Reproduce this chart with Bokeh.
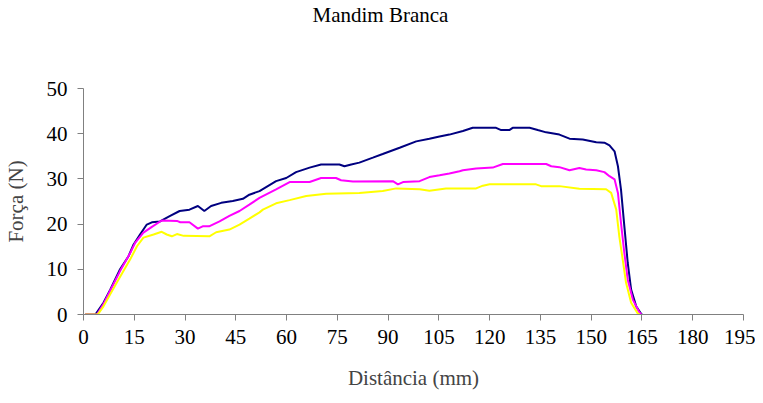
from bokeh.plotting import figure
from bokeh.models import Range1d, FixedTicker, LinearAxis, Title
from bokeh.embed import file_html
from bokeh.resources import INLINE

title_text = "Mandim Branca"
x_label = "Distância (mm)"
y_label = "Força (N)"
x_ticks = [0, 15, 30, 45, 60, 75, 90, 105, 120, 135, 150, 165, 180, 195]
y_ticks = [0, 10, 20, 30, 40, 50]

navy_x = [0.5, 3.5, 5.9, 7.9, 10.8, 13.3, 14.8, 16.7, 18.7, 20.2, 22.6, 25.6, 28.4, 31.3, 33.8, 35.7,
          37.7, 40.7, 44.1, 47.1, 49.0, 52.0, 56.9, 59.9, 62.8, 66.8, 70.2, 75.6, 77.1, 79.1, 81.5,
          85.5, 88.4, 93.4, 98.3, 102.2, 105.2, 108.1, 112.1, 115.0, 121.9, 123.4, 125.8, 126.8,
          131.8, 134.2, 136.7, 140.6, 143.6, 147.5, 151.5, 153.9, 155.4, 156.9, 157.9, 158.8,
          159.8, 160.8, 161.8, 163.3, 164.7, 165.0]
navy_y = [0, 0, 2.6, 5.5, 10.0, 12.9, 15.5, 17.7, 19.9, 20.4, 20.6, 21.8, 22.9, 23.2, 24.0, 22.9,
          24.0, 24.7, 25.1, 25.6, 26.5, 27.3, 29.5, 30.2, 31.5, 32.5, 33.2, 33.2, 32.8, 33.2, 33.6,
          34.7, 35.5, 36.9, 38.3, 38.9, 39.4, 39.8, 40.6, 41.3, 41.3, 40.8, 40.8, 41.3,
          41.3, 40.8, 40.3, 39.8, 38.9, 38.7, 38.1, 38.0, 37.4, 36.1, 32.8, 27.7,
          19.5, 11.4, 5.5, 1.8, 0.2, 0]

magenta_x = [0.5, 4.0, 5.9, 7.9, 10.8, 13.8, 15.3, 17.7, 20.2, 23.1, 27.6, 28.6, 31.3, 33.8, 35.2,
             37.1, 40.2, 43.1, 46.1, 49.0, 52.0, 53.0, 56.9, 60.9, 66.8, 70.2, 74.6, 76.1, 79.6,
             91.4, 92.9, 94.4, 99.3, 102.2, 105.2, 108.1, 111.1, 112.1, 116.0, 120.9, 123.9,
             136.7, 138.2, 140.6, 143.6, 146.5, 148.5, 151.5, 153.9, 155.4, 156.9, 157.9, 158.8,
             159.8, 160.8, 162.3, 164.2, 164.8]
magenta_y = [0, 0, 2.3, 5.3, 9.6, 13.6, 15.9, 18.1, 19.4, 20.8, 20.7, 20.4, 20.4, 19.0, 19.5,
             19.5, 20.6, 21.8, 22.9, 24.3, 25.8, 26.2, 27.7, 29.3, 29.3, 30.2, 30.2, 29.7, 29.4,
             29.5, 28.8, 29.3, 29.5, 30.4, 30.8, 31.2, 31.7, 31.9, 32.3, 32.5, 33.3,
             33.3, 32.8, 32.6, 31.9, 32.4, 32.1, 31.9, 31.5, 30.6, 29.9, 26.9, 20.3,
             13.6, 7.7, 3.3, 0.5, 0]

yellow_x = [0.5, 4.2, 5.9, 9.8, 13.8, 15.8, 17.7, 20.7, 23.1, 24.6, 26.1, 27.6, 29.6, 37.2, 39.2,
            43.1, 46.1, 49.0, 52.0, 53.0, 56.9, 60.9, 65.8, 71.7, 81.5, 88.4, 92.4, 99.3, 102.2,
            107.1, 116.0, 118.0, 120.0, 133.7, 135.2, 140.6, 146.5, 154.4, 155.9, 157.4, 158.3,
            159.3, 160.3, 161.8, 163.8, 164.3]
yellow_y = [0, 0, 1.8, 7.0, 12.2, 15.1, 17.0, 17.7, 18.3, 17.7, 17.3, 17.8, 17.4, 17.3, 18.2,
            18.8, 19.9, 21.2, 22.6, 23.2, 24.6, 25.3, 26.2, 26.7, 26.9, 27.3, 27.9, 27.7, 27.4,
            27.9, 27.9, 28.5, 28.8, 28.8, 28.4, 28.4, 27.8, 27.7, 26.9, 23.2, 17.3,
            12.2, 7.0, 2.6, 0.2, 0]

FONT = "Liberation Serif"

p = figure(width=755, height=395, output_backend="svg", toolbar_location=None,
           x_range=Range1d(0, 195), y_range=Range1d(0, 50),
           min_border_left=83, min_border_right=12, min_border_top=88, min_border_bottom=81)
p.outline_line_color = None
p.xgrid.visible = False
p.ygrid.visible = False
p.background_fill_color = "white"
p.border_fill_color = "white"
p.title.visible = False

xax = p.below[0]
yax = p.left[0]

for ax in (xax, yax):
    ax.axis_line_color = "#808080"
    ax.major_tick_line_color = "#808080"
    ax.minor_tick_line_color = None
    ax.major_tick_in = 0
    ax.major_tick_out = 6
    ax.major_label_text_font = FONT
    ax.major_label_text_font_size = "21px"
    ax.major_label_text_color = "black"
    ax.axis_label_text_font = FONT
    ax.axis_label_text_font_size = "21px"
    ax.axis_label_text_font_style = "normal"

xax.ticker = FixedTicker(ticks=x_ticks)
yax.ticker = FixedTicker(ticks=y_ticks)
xax.axis_label = x_label
yax.axis_label = y_label
xax.major_label_standoff = 9
xax.axis_label_standoff = 19
yax.major_label_standoff = 10
yax.axis_label_standoff = 16

# blank spacer between the frame and the title, so the title sits at the top
spacer = LinearAxis(ticker=FixedTicker(ticks=[195]), major_tick_out=62, major_tick_in=0,
                    axis_line_color=None, major_tick_line_color="white",
                    minor_tick_line_color=None, major_label_standoff=0,
                    major_label_overrides={195: ""}, major_label_text_font_size="1px")
p.add_layout(spacer, "above")

title = Title(text=title_text, align="left", vertical_align="bottom", offset=229, standoff=0,
              text_font=FONT, text_font_size="21px", text_font_style="normal", text_color="black")
p.add_layout(title, "above")

p.line(navy_x, navy_y, line_color="#000080", line_width=2)
p.line(magenta_x, magenta_y, line_color="#FF00FF", line_width=2)
p.line(yellow_x, yellow_y, line_color="#FFFF00", line_width=2)

open("out.html", "w").write(file_html(p, INLINE))
